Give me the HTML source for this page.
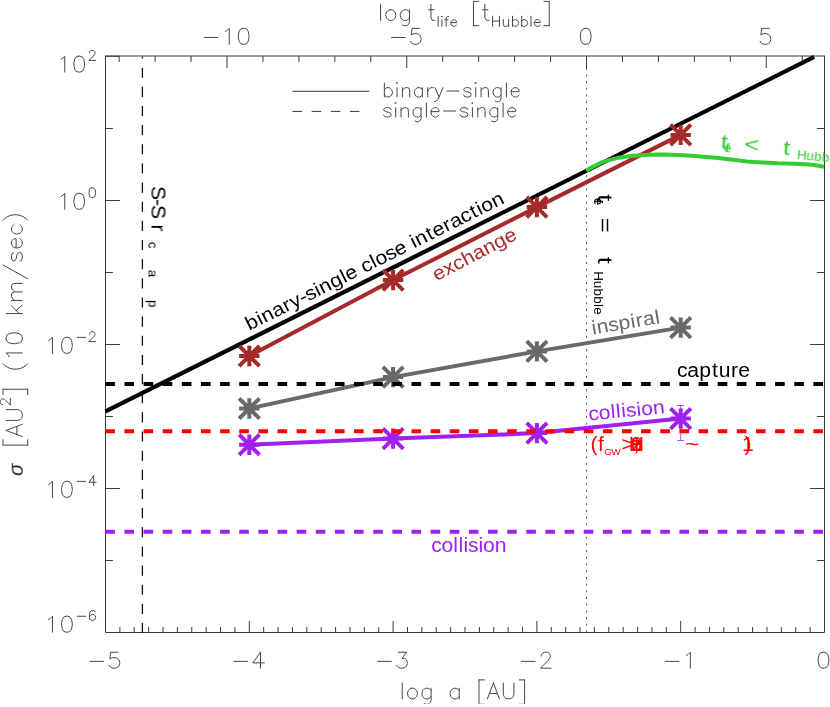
<!DOCTYPE html>
<html lang="en"><head><meta charset="utf-8"><title>Cross sections vs. semi-major axis</title>
<style>html,body{margin:0;padding:0;background:#fff}svg{display:block}text{font-family:"Liberation Sans",sans-serif}</style></head>
<body>
<svg width="830" height="707" viewBox="0 0 830 707">
<rect width="830" height="707" fill="#fff"/>
<g stroke="#3a3a3a" stroke-width="1" fill="none">
<path d="M105.5 56V632.5H824.5V56"/>
<path d="M105 56H825"/><path d="M105.5 56.3H119.3"/>
<path d="M119.88 632.5v-5.5M134.26 632.5v-5.5M148.64 632.5v-5.5M163.02 632.5v-5.5M177.4 632.5v-5.5M191.78 632.5v-5.5M206.16 632.5v-5.5M220.54 632.5v-5.5M234.92 632.5v-5.5M249.3 632.5v-11.5M263.68 632.5v-5.5M278.06 632.5v-5.5M292.44 632.5v-5.5M306.82 632.5v-5.5M321.2 632.5v-5.5M335.58 632.5v-5.5M349.96 632.5v-5.5M364.34 632.5v-5.5M378.72 632.5v-5.5M393.1 632.5v-11.5M407.48 632.5v-5.5M421.86 632.5v-5.5M436.24 632.5v-5.5M450.62 632.5v-5.5M465 632.5v-5.5M479.38 632.5v-5.5M493.76 632.5v-5.5M508.14 632.5v-5.5M522.52 632.5v-5.5M536.9 632.5v-11.5M551.28 632.5v-5.5M565.66 632.5v-5.5M580.04 632.5v-5.5M594.42 632.5v-5.5M608.8 632.5v-5.5M623.18 632.5v-5.5M637.56 632.5v-5.5M651.94 632.5v-5.5M666.32 632.5v-5.5M680.7 632.5v-11.5M695.08 632.5v-5.5M709.46 632.5v-5.5M723.84 632.5v-5.5M738.22 632.5v-5.5M752.6 632.5v-5.5M766.98 632.5v-5.5M781.36 632.5v-5.5M795.74 632.5v-5.5M810.12 632.5v-5.5M119.15 56v6M155.1 56v6M191.05 56v6M227 56v12M262.95 56v6M298.9 56v6M334.85 56v6M370.8 56v6M406.75 56v12M442.7 56v6M478.65 56v6M514.6 56v6M550.55 56v6M586.5 56v12M622.45 56v6M658.4 56v6M694.35 56v6M730.3 56v6M766.25 56v12M802.2 56v6M105.5 128.5h7.4M824.5 128.5h-7.4M105.5 200.5h14.4M824.5 200.5h-14.4M105.5 272.5h7.4M824.5 272.5h-7.4M105.5 344.5h14.4M824.5 344.5h-14.4M105.5 416.5h7.4M824.5 416.5h-7.4M105.5 488.5h14.4M824.5 488.5h-14.4M105.5 560.5h7.4M824.5 560.5h-7.4"/>
</g>
<path d="M142.4 633.1V56.5" stroke="#111" stroke-width="1.3" stroke-dasharray="10.1 9.05" fill="none"/>
<path d="M586.5 632.5V56.5" stroke="#4a4a4a" stroke-width="0.9" stroke-dasharray="2 4.7" fill="none"/>
<g>
<path d="M105.5 411.3L814.2 56.9" stroke="#000" stroke-width="4.2" fill="none"/>
<polyline points="249.3,356 393.1,280.1 536.9,207.1 680.7,134.9" stroke="#a52a2a" stroke-width="4" fill="none" stroke-linejoin="round"/><path d="M239.1 356h20.4M249.3 345.8v20.4M239.1 345.8l20.4 20.4M239.1 366.2l20.4 -20.4" stroke="#a52a2a" stroke-width="4" fill="none"/><path d="M382.9 280.1h20.4M393.1 269.9v20.4M382.9 269.9l20.4 20.4M382.9 290.3l20.4 -20.4" stroke="#a52a2a" stroke-width="4" fill="none"/><path d="M526.7 207.1h20.4M536.9 196.9v20.4M526.7 196.9l20.4 20.4M526.7 217.3l20.4 -20.4" stroke="#a52a2a" stroke-width="4" fill="none"/><path d="M670.5 134.9h20.4M680.7 124.7v20.4M670.5 124.7l20.4 20.4M670.5 145.1l20.4 -20.4" stroke="#a52a2a" stroke-width="4" fill="none"/>
<polyline points="249.3,408.5 393.1,377.1 536.9,351.4 680.7,327.6" stroke="#696969" stroke-width="4" fill="none" stroke-linejoin="round"/><path d="M239.1 408.5h20.4M249.3 398.3v20.4M239.1 398.3l20.4 20.4M239.1 418.7l20.4 -20.4" stroke="#696969" stroke-width="4" fill="none"/><path d="M382.9 377.1h20.4M393.1 366.9v20.4M382.9 366.9l20.4 20.4M382.9 387.3l20.4 -20.4" stroke="#696969" stroke-width="4" fill="none"/><path d="M526.7 351.4h20.4M536.9 341.2v20.4M526.7 341.2l20.4 20.4M526.7 361.6l20.4 -20.4" stroke="#696969" stroke-width="4" fill="none"/><path d="M670.5 327.6h20.4M680.7 317.4v20.4M670.5 317.4l20.4 20.4M670.5 337.8l20.4 -20.4" stroke="#696969" stroke-width="4" fill="none"/>
<polyline points="249.3,444.7 393.1,438.6 536.9,433.1 680.7,418.6" stroke="#a020f0" stroke-width="4" fill="none" stroke-linejoin="round"/><path d="M239.1 444.7h20.4M249.3 434.5v20.4M239.1 434.5l20.4 20.4M239.1 454.9l20.4 -20.4" stroke="#a020f0" stroke-width="4" fill="none"/><path d="M382.9 438.6h20.4M393.1 428.4v20.4M382.9 428.4l20.4 20.4M382.9 448.8l20.4 -20.4" stroke="#a020f0" stroke-width="4" fill="none"/><path d="M526.7 433.1h20.4M536.9 422.9v20.4M526.7 422.9l20.4 20.4M526.7 443.3l20.4 -20.4" stroke="#a020f0" stroke-width="4" fill="none"/><path d="M670.5 418.6h20.4M680.7 408.4v20.4M670.5 408.4l20.4 20.4M670.5 428.8l20.4 -20.4" stroke="#a020f0" stroke-width="4" fill="none"/>
<path d="M680.7 405.5V440.5M677.3 405.5h6.8M677.3 440.5h6.8" stroke="#a020f0" stroke-width="0.8" fill="none"/>
<path d="M105.3 384H823.5" stroke="#000" stroke-width="4" stroke-dasharray="9.6 9.537" fill="none"/>
<path d="M105.3 431.25H823.5" stroke="#ff0000" stroke-width="4" stroke-dasharray="9.6 9.537" fill="none"/>
<path d="M105.3 531.7H823.5" stroke="#a020f0" stroke-width="4" stroke-dasharray="9.6 9.537" fill="none"/>
<polyline points="586.1,170.6 593,166.8 601.3,162.6 609,160.1 617,158.1 632.6,155.7 648.3,154.8 664,154.6 679.6,155.1 695.3,156.1 700,156.4 715.7,157.8 731.3,159.6 747,161.4 762.6,162.5 778.3,163.3 794,163.7 809.6,164.6 817,165.5 824,166.8" stroke="#32cd32" stroke-width="4" fill="none" stroke-linejoin="round"/>
</g>
<path d="M292.5 91.3H369.3" stroke="#3a3a3a" stroke-width="1" fill="none"/>
<path d="M292.5 111.4H368" stroke="#3a3a3a" stroke-width="1" stroke-dasharray="9.5 9.65" fill="none"/>
<g id="axis-text">
<g fill="none" stroke="#464646" stroke-width="1" stroke-linecap="round" stroke-linejoin="round"><title>binary-single</title><path d="M384.37 82.99 384.37 97M384.37 89.66 385.7 88.33 387.04 87.66 389.04 87.66 390.37 88.33 391.7 89.66 392.37 91.66 392.37 93 391.7 95 390.37 96.33 389.04 97 387.04 97 385.7 96.33 384.37 95M396.37 82.99 397.04 83.66 397.71 82.99 397.04 82.33 396.37 82.99M397.04 87.66 397.04 97M402.38 87.66 402.38 97M402.38 90.33 404.38 88.33 405.71 87.66 407.71 87.66 409.05 88.33 409.71 90.33 409.71 97M422.39 87.66 422.39 97M422.39 89.66 421.05 88.33 419.72 87.66 417.72 87.66 416.38 88.33 415.05 89.66 414.38 91.66 414.38 93 415.05 95 416.38 96.33 417.72 97 419.72 97 421.05 96.33 422.39 95M427.72 87.66 427.72 97M427.72 91.66 428.39 89.66 429.72 88.33 431.06 87.66 433.06 87.66M435.06 87.66 439.06 97M443.06 87.66 439.06 97 437.73 99.67 436.39 101 435.06 101.67 434.39 101.67M447.07 91 459.07 91M471.08 89.66 470.41 88.33 468.41 87.66 466.41 87.66 464.41 88.33 463.74 89.66 464.41 91 465.74 91.66 469.08 92.33 470.41 93 471.08 94.33 471.08 95 470.41 96.33 468.41 97 466.41 97 464.41 96.33 463.74 95M475.08 82.99 475.75 83.66 476.41 82.99 475.75 82.33 475.08 82.99M475.75 87.66 475.75 97M481.08 87.66 481.08 97M481.08 90.33 483.08 88.33 484.42 87.66 486.42 87.66 487.75 88.33 488.42 90.33 488.42 97M501.09 87.66 501.09 98.33 500.43 100.33 499.76 101 498.43 101.67 496.42 101.67 495.09 101M501.09 89.66 499.76 88.33 498.43 87.66 496.42 87.66 495.09 88.33 493.76 89.66 493.09 91.66 493.09 93 493.76 95 495.09 96.33 496.42 97 498.43 97 499.76 96.33 501.09 95M506.43 82.99 506.43 97M511.1 91.66 519.1 91.66 519.1 90.33 518.44 89 517.77 88.33 516.43 87.66 514.43 87.66 513.1 88.33 511.77 89.66 511.1 91.66 511.1 93 511.77 95 513.1 96.33 514.43 97 516.43 97 517.77 96.33 519.1 95"/></g>
<g fill="none" stroke="#464646" stroke-width="1" stroke-linecap="round" stroke-linejoin="round"><title>single-single</title><path d="M391.04 109.66 390.37 108.33 388.37 107.66 386.37 107.66 384.37 108.33 383.7 109.66 384.37 111 385.7 111.66 389.04 112.33 390.37 113 391.04 114.33 391.04 115 390.37 116.33 388.37 117 386.37 117 384.37 116.33 383.7 115M395.04 102.99 395.71 103.66 396.37 102.99 395.71 102.33 395.04 102.99M395.71 107.66 395.71 117M401.04 107.66 401.04 117M401.04 110.33 403.04 108.33 404.38 107.66 406.38 107.66 407.71 108.33 408.38 110.33 408.38 117M421.05 107.66 421.05 118.33 420.39 120.33 419.72 121 418.38 121.67 416.38 121.67 415.05 121M421.05 109.66 419.72 108.33 418.38 107.66 416.38 107.66 415.05 108.33 413.72 109.66 413.05 111.66 413.05 113 413.72 115 415.05 116.33 416.38 117 418.38 117 419.72 116.33 421.05 115M426.39 102.99 426.39 117M431.06 111.66 439.06 111.66 439.06 110.33 438.39 109 437.73 108.33 436.39 107.66 434.39 107.66 433.06 108.33 431.73 109.66 431.06 111.66 431.06 113 431.73 115 433.06 116.33 434.39 117 436.39 117 437.73 116.33 439.06 115M443.73 111 455.74 111M467.74 109.66 467.08 108.33 465.07 107.66 463.07 107.66 461.07 108.33 460.41 109.66 461.07 111 462.41 111.66 465.74 112.33 467.08 113 467.74 114.33 467.74 115 467.08 116.33 465.07 117 463.07 117 461.07 116.33 460.41 115M471.75 102.99 472.41 103.66 473.08 102.99 472.41 102.33 471.75 102.99M472.41 107.66 472.41 117M477.75 107.66 477.75 117M477.75 110.33 479.75 108.33 481.08 107.66 483.08 107.66 484.42 108.33 485.08 110.33 485.08 117M497.76 107.66 497.76 118.33 497.09 120.33 496.42 121 495.09 121.67 493.09 121.67 491.75 121M497.76 109.66 496.42 108.33 495.09 107.66 493.09 107.66 491.75 108.33 490.42 109.66 489.75 111.66 489.75 113 490.42 115 491.75 116.33 493.09 117 495.09 117 496.42 116.33 497.76 115M503.09 102.99 503.09 117M507.76 111.66 515.77 111.66 515.77 110.33 515.1 109 514.43 108.33 513.1 107.66 511.1 107.66 509.76 108.33 508.43 109.66 507.76 111.66 507.76 113 508.43 115 509.76 116.33 511.1 117 513.1 117 514.43 116.33 515.77 115"/></g>
<g fill="none" stroke="#464646" stroke-width="1" stroke-linecap="round" stroke-linejoin="round"><title>−5</title><path d="M90.06 661.36 103.74 661.36M118.18 652.24 110.58 652.24 109.82 659.08 110.58 658.32 112.86 657.56 115.14 657.56 117.42 658.32 118.94 659.84 119.7 662.12 119.7 663.64 118.94 665.92 117.42 667.44 115.14 668.2 112.86 668.2 110.58 667.44 109.82 666.68 109.06 665.16"/></g>
<g fill="none" stroke="#464646" stroke-width="1" stroke-linecap="round" stroke-linejoin="round"><title>−4</title><path d="M233.86 661.36 247.54 661.36M260.46 652.24 252.86 662.88 264.26 662.88M260.46 652.24 260.46 668.2"/></g>
<g fill="none" stroke="#464646" stroke-width="1" stroke-linecap="round" stroke-linejoin="round"><title>−3</title><path d="M377.66 661.36 391.34 661.36M398.18 652.24 406.54 652.24 401.98 658.32 404.26 658.32 405.78 659.08 406.54 659.84 407.3 662.12 407.3 663.64 406.54 665.92 405.02 667.44 402.74 668.2 400.46 668.2 398.18 667.44 397.42 666.68 396.66 665.16"/></g>
<g fill="none" stroke="#464646" stroke-width="1" stroke-linecap="round" stroke-linejoin="round"><title>−2</title><path d="M521.46 661.36 535.14 661.36M541.22 656.04 541.22 655.28 541.98 653.76 542.74 653 544.26 652.24 547.3 652.24 548.82 653 549.58 653.76 550.34 655.28 550.34 656.8 549.58 658.32 548.06 660.6 540.46 668.2 551.1 668.2"/></g>
<g fill="none" stroke="#464646" stroke-width="1" stroke-linecap="round" stroke-linejoin="round"><title>−1</title><path d="M665.26 661.36 678.94 661.36M686.54 655.28 688.06 654.52 690.34 652.24 690.34 668.2"/></g>
<g fill="none" stroke="#464646" stroke-width="1" stroke-linecap="round" stroke-linejoin="round"><title>0</title><path d="M822.74 652.24 820.46 653 818.94 655.28 818.18 659.08 818.18 661.36 818.94 665.16 820.46 667.44 822.74 668.2 824.26 668.2 826.54 667.44 828.06 665.16 828.82 661.36 828.82 659.08 828.06 655.28 826.54 653 824.26 652.24 822.74 652.24"/></g>
<g fill="none" stroke="#464646" stroke-width="1" stroke-linecap="round" stroke-linejoin="round"><title>−10</title><path d="M204.16 37.46 217.84 37.46M225.44 31.38 226.96 30.62 229.24 28.34 229.24 44.3M242.92 28.34 240.64 29.1 239.12 31.38 238.36 35.18 238.36 37.46 239.12 41.26 240.64 43.54 242.92 44.3 244.44 44.3 246.72 43.54 248.24 41.26 249 37.46 249 35.18 248.24 31.38 246.72 29.1 244.44 28.34 242.92 28.34"/></g>
<g fill="none" stroke="#464646" stroke-width="1" stroke-linecap="round" stroke-linejoin="round"><title>−5</title><path d="M391.51 37.46 405.19 37.46M419.63 28.34 412.03 28.34 411.27 35.18 412.03 34.42 414.31 33.66 416.59 33.66 418.87 34.42 420.39 35.94 421.15 38.22 421.15 39.74 420.39 42.02 418.87 43.54 416.59 44.3 414.31 44.3 412.03 43.54 411.27 42.78 410.51 41.26"/></g>
<g fill="none" stroke="#464646" stroke-width="1" stroke-linecap="round" stroke-linejoin="round"><title>0</title><path d="M584.94 28.34 582.66 29.1 581.14 31.38 580.38 35.18 580.38 37.46 581.14 41.26 582.66 43.54 584.94 44.3 586.46 44.3 588.74 43.54 590.26 41.26 591.02 37.46 591.02 35.18 590.26 31.38 588.74 29.1 586.46 28.34 584.94 28.34"/></g>
<g fill="none" stroke="#464646" stroke-width="1" stroke-linecap="round" stroke-linejoin="round"><title>5</title><path d="M769.25 28.34 761.65 28.34 760.89 35.18 761.65 34.42 763.93 33.66 766.21 33.66 768.49 34.42 770.01 35.94 770.77 38.22 770.77 39.74 770.01 42.02 768.49 43.54 766.21 44.3 763.93 44.3 761.65 43.54 760.89 42.78 760.13 41.26"/></g>
<g fill="none" stroke="#464646" stroke-width="1" stroke-linecap="round" stroke-linejoin="round"><title>10^2</title><path d="M60.94 59.18 62.46 58.42 64.74 56.14 64.74 72.1M78.42 56.14 76.14 56.9 74.62 59.18 73.86 62.98 73.86 65.26 74.62 69.06 76.14 71.34 78.42 72.1 79.94 72.1 82.22 71.34 83.74 69.06 84.5 65.26 84.5 62.98 83.74 59.18 82.22 56.9 79.94 56.14 78.42 56.14M89.46 52.86 89.46 52.39 89.93 51.45 90.4 50.98 91.35 50.5 93.23 50.5 94.17 50.98 94.64 51.45 95.12 52.39 95.12 53.33 94.64 54.27 93.7 55.69 88.99 60.4 95.59 60.4"/></g>
<g fill="none" stroke="#464646" stroke-width="1" stroke-linecap="round" stroke-linejoin="round"><title>10^0</title><path d="M60.94 196.38 62.46 195.62 64.74 193.34 64.74 209.3M78.42 193.34 76.14 194.1 74.62 196.38 73.86 200.18 73.86 202.46 74.62 206.26 76.14 208.54 78.42 209.3 79.94 209.3 82.22 208.54 83.74 206.26 84.5 202.46 84.5 200.18 83.74 196.38 82.22 194.1 79.94 193.34 78.42 193.34M91.82 187.7 90.4 188.18 89.46 189.59 88.99 191.95 88.99 193.36 89.46 195.72 90.4 197.13 91.82 197.6 92.76 197.6 94.17 197.13 95.12 195.72 95.59 193.36 95.59 191.95 95.12 189.59 94.17 188.18 92.76 187.7 91.82 187.7"/></g>
<g fill="none" stroke="#464646" stroke-width="1" stroke-linecap="round" stroke-linejoin="round"><title>10^−2</title><path d="M48.68 340.38 50.2 339.62 52.48 337.34 52.48 353.3M66.16 337.34 63.88 338.1 62.36 340.38 61.6 344.18 61.6 346.46 62.36 350.26 63.88 352.54 66.16 353.3 67.68 353.3 69.96 352.54 71.48 350.26 72.24 346.46 72.24 344.18 71.48 340.38 69.96 338.1 67.68 337.34 66.16 337.34M77.21 337.36 85.69 337.36M89.46 334.06 89.46 333.59 89.93 332.65 90.4 332.18 91.35 331.7 93.23 331.7 94.17 332.18 94.64 332.65 95.12 333.59 95.12 334.53 94.64 335.47 93.7 336.89 88.99 341.6 95.59 341.6"/></g>
<g fill="none" stroke="#464646" stroke-width="1" stroke-linecap="round" stroke-linejoin="round"><title>10^−4</title><path d="M48.68 484.38 50.2 483.62 52.48 481.34 52.48 497.3M66.16 481.34 63.88 482.1 62.36 484.38 61.6 488.18 61.6 490.46 62.36 494.26 63.88 496.54 66.16 497.3 67.68 497.3 69.96 496.54 71.48 494.26 72.24 490.46 72.24 488.18 71.48 484.38 69.96 482.1 67.68 481.34 66.16 481.34M77.21 481.36 85.69 481.36M93.7 475.7 88.99 482.3 96.06 482.3M93.7 475.7 93.7 485.6"/></g>
<g fill="none" stroke="#464646" stroke-width="1" stroke-linecap="round" stroke-linejoin="round"><title>10^−6</title><path d="M48.68 619.28 50.2 618.52 52.48 616.24 52.48 632.2M66.16 616.24 63.88 617 62.36 619.28 61.6 623.08 61.6 625.36 62.36 629.16 63.88 631.44 66.16 632.2 67.68 632.2 69.96 631.44 71.48 629.16 72.24 625.36 72.24 623.08 71.48 619.28 69.96 617 67.68 616.24 66.16 616.24M77.21 616.26 85.69 616.26M95.12 612.02 94.64 611.08 93.23 610.6 92.29 610.6 90.87 611.08 89.93 612.49 89.46 614.85 89.46 617.2 89.93 619.09 90.87 620.03 92.29 620.5 92.76 620.5 94.17 620.03 95.12 619.09 95.59 617.67 95.59 617.2 95.12 615.79 94.17 614.85 92.76 614.37 92.29 614.37 90.87 614.85 89.93 615.79 89.46 617.2"/></g>
<clipPath id="cb"><rect x="0" y="0" width="830" height="703.8"/></clipPath><g clip-path="url(#cb)"><g fill="none" stroke="#464646" stroke-width="1" stroke-linecap="round" stroke-linejoin="round"><title>log a [AU]</title><path d="M402.22 682.94 402.22 698.9M411.34 688.26 409.82 689.02 408.3 690.54 407.54 692.82 407.54 694.34 408.3 696.62 409.82 698.14 411.34 698.9 413.62 698.9 415.14 698.14 416.66 696.62 417.42 694.34 417.42 692.82 416.66 690.54 415.14 689.02 413.62 688.26 411.34 688.26M431.1 688.26 431.1 700.42 430.34 702.7 429.58 703.46 428.06 704.22 425.78 704.22 424.26 703.46M431.1 690.54 429.58 689.02 428.06 688.26 425.78 688.26 424.26 689.02 422.74 690.54 421.98 692.82 421.98 694.34 422.74 696.62 424.26 698.14 425.78 698.9 428.06 698.9 429.58 698.14 431.1 696.62M459.22 688.26 459.22 698.9M459.22 690.54 457.7 689.02 456.18 688.26 453.9 688.26 452.38 689.02 450.86 690.54 450.1 692.82 450.1 694.34 450.86 696.62 452.38 698.14 453.9 698.9 456.18 698.9 457.7 698.14 459.22 696.62M478.98 679.9 478.98 704.22M478.98 679.9 484.3 679.9M478.98 704.22 484.3 704.22M493.42 682.94 487.34 698.9M493.42 682.94 499.5 698.9M489.62 693.58 497.22 693.58M503.3 682.94 503.3 694.34 504.06 696.62 505.58 698.14 507.86 698.9 509.38 698.9 511.66 698.14 513.18 696.62 513.94 694.34 513.94 682.94M524.58 679.9 524.58 704.22M519.26 679.9 524.58 679.9M519.26 704.22 524.58 704.22"/></g></g>
<g fill="none" stroke="#464646" stroke-width="1" stroke-linecap="round" stroke-linejoin="round"><title>log t_life [t_Hubble]</title><path d="M380.55 4.44 380.55 20.4M389.67 9.76 388.15 10.52 386.63 12.04 385.87 14.32 385.87 15.84 386.63 18.12 388.15 19.64 389.67 20.4 391.95 20.4 393.47 19.64 394.99 18.12 395.75 15.84 395.75 14.32 394.99 12.04 393.47 10.52 391.95 9.76 389.67 9.76M409.43 9.76 409.43 21.92 408.67 24.2 407.91 24.96 406.39 25.72 404.11 25.72 402.59 24.96M409.43 12.04 407.91 10.52 406.39 9.76 404.11 9.76 402.59 10.52 401.07 12.04 400.31 14.32 400.31 15.84 401.07 18.12 402.59 19.64 404.11 20.4 406.39 20.4 407.91 19.64 409.43 18.12M430.95 4.44 430.95 17.36 431.71 19.64 433.23 20.4 434.75 20.4M428.67 9.76 433.99 9.76M438.16 16.5 438.16 26.4M441.46 16.5 441.93 16.98 442.4 16.5 441.93 16.03 441.46 16.5M441.93 19.8 441.93 26.4M448.52 16.5 447.58 16.5 446.64 16.98 446.17 18.39 446.17 26.4M444.75 19.8 448.05 19.8M450.88 22.63 456.53 22.63 456.53 21.69 456.06 20.75 455.59 20.27 454.65 19.8 453.24 19.8 452.29 20.27 451.35 21.22 450.88 22.63 450.88 23.57 451.35 24.99 452.29 25.93 453.24 26.4 454.65 26.4 455.59 25.93 456.53 24.99M473.47 1.4 473.47 25.72M473.47 1.4 478.79 1.4M473.47 25.72 478.79 25.72M484.87 4.44 484.87 17.36 485.63 19.64 487.15 20.4 488.67 20.4M482.59 9.76 487.91 9.76M492.63 16.21 492.63 26.4M499.42 16.21 499.42 26.4M492.63 21.06 499.42 21.06M503.31 19.61 503.31 24.46 503.79 25.91 504.76 26.4 506.22 26.4 507.19 25.91 508.64 24.46M508.64 19.61 508.64 26.4M512.53 16.21 512.53 26.4M512.53 21.06 513.5 20.09 514.47 19.61 515.92 19.61 516.9 20.09 517.87 21.06 518.35 22.52 518.35 23.49 517.87 24.94 516.9 25.91 515.92 26.4 514.47 26.4 513.5 25.91 512.53 24.94M521.75 16.21 521.75 26.4M521.75 21.06 522.72 20.09 523.69 19.61 525.15 19.61 526.12 20.09 527.09 21.06 527.57 22.52 527.57 23.49 527.09 24.94 526.12 25.91 525.15 26.4 523.69 26.4 522.72 25.91 521.75 24.94M530.97 16.21 530.97 26.4M534.37 22.52 540.19 22.52 540.19 21.55 539.71 20.58 539.22 20.09 538.25 19.61 536.79 19.61 535.82 20.09 534.85 21.06 534.37 22.52 534.37 23.49 534.85 24.94 535.82 25.91 536.79 26.4 538.25 26.4 539.22 25.91 540.19 24.94M549.25 1.4 549.25 25.72M543.93 1.4 549.25 1.4M543.93 25.72 549.25 25.72"/></g>
<g transform="translate(22.3 211.66) rotate(-90)" fill="none" stroke="#464646" stroke-width="1" stroke-linecap="round" stroke-linejoin="round"><title>σ [AU^2] (10 km/sec)</title><path d="M-233.45 -19.3 -233.45 5.4M-233.45 -19.3 -228.05 -19.3M-233.45 5.4 -228.05 5.4M-218.78 -16.21 -224.96 0M-218.78 -16.21 -212.61 0M-222.64 -5.4 -214.92 -5.4M-208.75 -16.21 -208.75 -4.63 -207.98 -2.32 -206.43 -0.77 -204.12 0 -202.57 0 -200.26 -0.77 -198.71 -2.32 -197.94 -4.63 -197.94 -16.21M-192.94 -19.66 -192.94 -20.14 -192.46 -21.09 -191.98 -21.57 -191.02 -22.05 -189.11 -22.05 -188.15 -21.57 -187.67 -21.09 -187.19 -20.14 -187.19 -19.18 -187.67 -18.22 -188.63 -16.79 -193.42 -12 -186.72 -12M-177.56 -19.3 -177.56 5.4M-182.96 -19.3 -177.56 -19.3M-182.96 5.4 -177.56 5.4M-152.08 -19.3 -153.63 -17.76 -155.17 -15.44 -156.72 -12.35 -157.49 -8.49 -157.49 -5.4 -156.72 -1.54 -155.17 1.54 -153.63 3.86 -152.08 5.4M-145.14 -13.12 -143.59 -13.9 -141.28 -16.21 -141.28 0M-127.38 -16.21 -129.7 -15.44 -131.24 -13.12 -132.01 -9.26 -132.01 -6.95 -131.24 -3.09 -129.7 -0.77 -127.38 0 -125.84 0 -123.52 -0.77 -121.98 -3.09 -121.2 -6.95 -121.2 -9.26 -121.98 -13.12 -123.52 -15.44 -125.84 -16.21 -127.38 -16.21M-101.9 -16.21 -101.9 0M-94.18 -10.81 -101.9 -3.09M-98.82 -6.18 -93.41 0M-88.78 -10.81 -88.78 0M-88.78 -7.72 -86.46 -10.04 -84.92 -10.81 -82.6 -10.81 -81.06 -10.04 -80.29 -7.72 -80.29 0M-80.29 -7.72 -77.97 -10.04 -76.43 -10.81 -74.11 -10.81 -72.57 -10.04 -71.8 -7.72 -71.8 0M-53.27 -19.3 -67.16 5.4M-40.92 -8.49 -41.69 -10.04 -44 -10.81 -46.32 -10.81 -48.64 -10.04 -49.41 -8.49 -48.64 -6.95 -47.09 -6.18 -43.23 -5.4 -41.69 -4.63 -40.92 -3.09 -40.92 -2.32 -41.69 -0.77 -44 0 -46.32 0 -48.64 -0.77 -49.41 -2.32M-36.28 -6.18 -27.02 -6.18 -27.02 -7.72 -27.79 -9.26 -28.56 -10.04 -30.11 -10.81 -32.42 -10.81 -33.97 -10.04 -35.51 -8.49 -36.28 -6.18 -36.28 -4.63 -35.51 -2.32 -33.97 -0.77 -32.42 0 -30.11 0 -28.56 -0.77 -27.02 -2.32M-13.12 -8.49 -14.67 -10.04 -16.21 -10.81 -18.53 -10.81 -20.07 -10.04 -21.62 -8.49 -22.39 -6.18 -22.39 -4.63 -21.62 -2.32 -20.07 -0.77 -18.53 0 -16.21 0 -14.67 -0.77 -13.12 -2.32M-8.49 -19.3 -6.95 -17.76 -5.4 -15.44 -3.86 -12.35 -3.09 -8.49 -3.09 -5.4 -3.86 -1.54 -5.4 1.54 -6.95 3.86 -8.49 5.4"/></g>
</g>
<g id="labels" opacity="0.999">
<g transform="translate(249.2 330.8) rotate(-26.57)" fill="#000"><text transform="scale(1.09 1)" x="0.14 11.33 16.04 26.9 37.99 45.11 54.88 60.79 70.45 75.16 86.21 97.41 101.95 112.78 118.19 128.1 132.61 143.03 152.39 163.22 168.95 173.66 185.3 191.38 202.49 209.25 219.93 230.29 236.67 241.18 252.04" y="0" font-size="19.4" style="white-space:pre">binary-single close interaction</text></g>
<g transform="translate(436.5 281.2) rotate(-27.5)" fill="#a52a2a"><text transform="scale(1.09 1)" x="-0.03 10.88 20.52 30.14 41 51.87 62.93 73.82" y="0" font-size="19.4" style="white-space:pre">exchange</text></g>
<g transform="translate(592.5 334.5) rotate(-9.5)" fill="#696969"><text transform="scale(1.09 1)" x="0.27 4.97 15.58 25.11 36.3 41.23 47.99 58.99" y="0" font-size="19.4" style="white-space:pre">inspiral</text></g>
<g transform="translate(589 420.5) rotate(-5.5)" fill="#a020f0"><text transform="scale(1.09 1)" x="-0.06 9.52 20.51 25.36 30.2 34.47 44.13 48.64 59.5" y="0" font-size="19.4" style="white-space:pre">collision</text></g>
<g transform="translate(431.5 551.5) rotate(0)" fill="#a020f0"><text transform="scale(1.09 1)" x="-0.17 9.16 19.97 24.7 29.42 33.52 43.01 47.34 57.94" y="0" font-size="19.4" style="white-space:pre">collision</text></g>
<g transform="translate(677 376.5) rotate(0)" fill="#000"><text transform="scale(1.09 1)" x="-0.06 9.53 20.4 32.05 38.29 49.57 56.16" y="0" font-size="19.4" style="white-space:pre">capture</text></g>
<g transform="translate(590.3 451.3) rotate(0)" fill="#ff0000"><text transform="scale(1.09 1)" x="0.17 7.17" y="0" font-size="19.4" style="white-space:pre">(f</text><text transform="scale(1.09 1)" x="12.75 19.22" y="3.3" font-size="9.12" style="white-space:pre">GW</text><text transform="scale(1.32 1)" x="23.28" y="0" font-size="19.4" style="white-space:pre">&gt;</text><text transform="scale(1.09 1)" x="36.96 36.96 39.66 35.35 37.51 39.66 39.66 36.96" y="0" font-size="19.4" style="white-space:pre">10 Hz, e</text><text transform="scale(1.32 1)" x="71.53" y="0" font-size="19.4" style="white-space:pre">~</text><text transform="scale(1.09 1)" x="139.2 141.37" y="0" font-size="19.4" style="white-space:pre">1)</text></g>
<g transform="translate(720 148.5) rotate(5.5)" fill="#32cd32"><text transform="scale(1.32 1)" x="0.13" y="0" font-size="19.4" style="white-space:pre">t</text><text transform="scale(1.09 1)" x="5.46 5.46 5.11 3.38" y="3.4" font-size="12.42" style="white-space:pre">life</text><text transform="scale(1.32 1)" x="18.07 47.6" y="0" font-size="19.4" style="white-space:pre">&lt;t</text><text transform="scale(1.09 1)" x="70.87 79.63 86.7 93.78 100.95 103.86" y="3.4" font-size="12.42" style="white-space:pre">Hubble</text></g>
<g transform="translate(598 194) rotate(90)" fill="#000"><text transform="scale(1.32 1)" x="0.13" y="0" font-size="19.4" style="white-space:pre">t</text><text transform="scale(1.09 1)" x="5.46 5.46 5.11 3.38" y="3.6" font-size="12.42" style="white-space:pre">life</text><text transform="scale(1.32 1)" x="18.07 47.6" y="0" font-size="19.4" style="white-space:pre">=t</text><text transform="scale(1.09 1)" x="70.87 79.63 86.7 93.78 100.95 103.86" y="3.6" font-size="12.42" style="white-space:pre">Hubble</text></g>
<g transform="translate(151.5 187) rotate(90)" fill="#000"><text transform="scale(1.09 1)" x="-0.94 10.98 16.42 28.49 34.31" y="0" font-size="19.4" style="white-space:pre">S-S r</text><text transform="scale(1.09 1)" x="50.29 75.88 103.72" y="2.6" font-size="12.42" style="white-space:pre">cap</text></g>
<text transform="translate(22.8 476.0) rotate(-90)" font-size="20.5" font-style="italic" fill="#2a2a2a">σ</text>
</g>
</svg>
</body></html>
